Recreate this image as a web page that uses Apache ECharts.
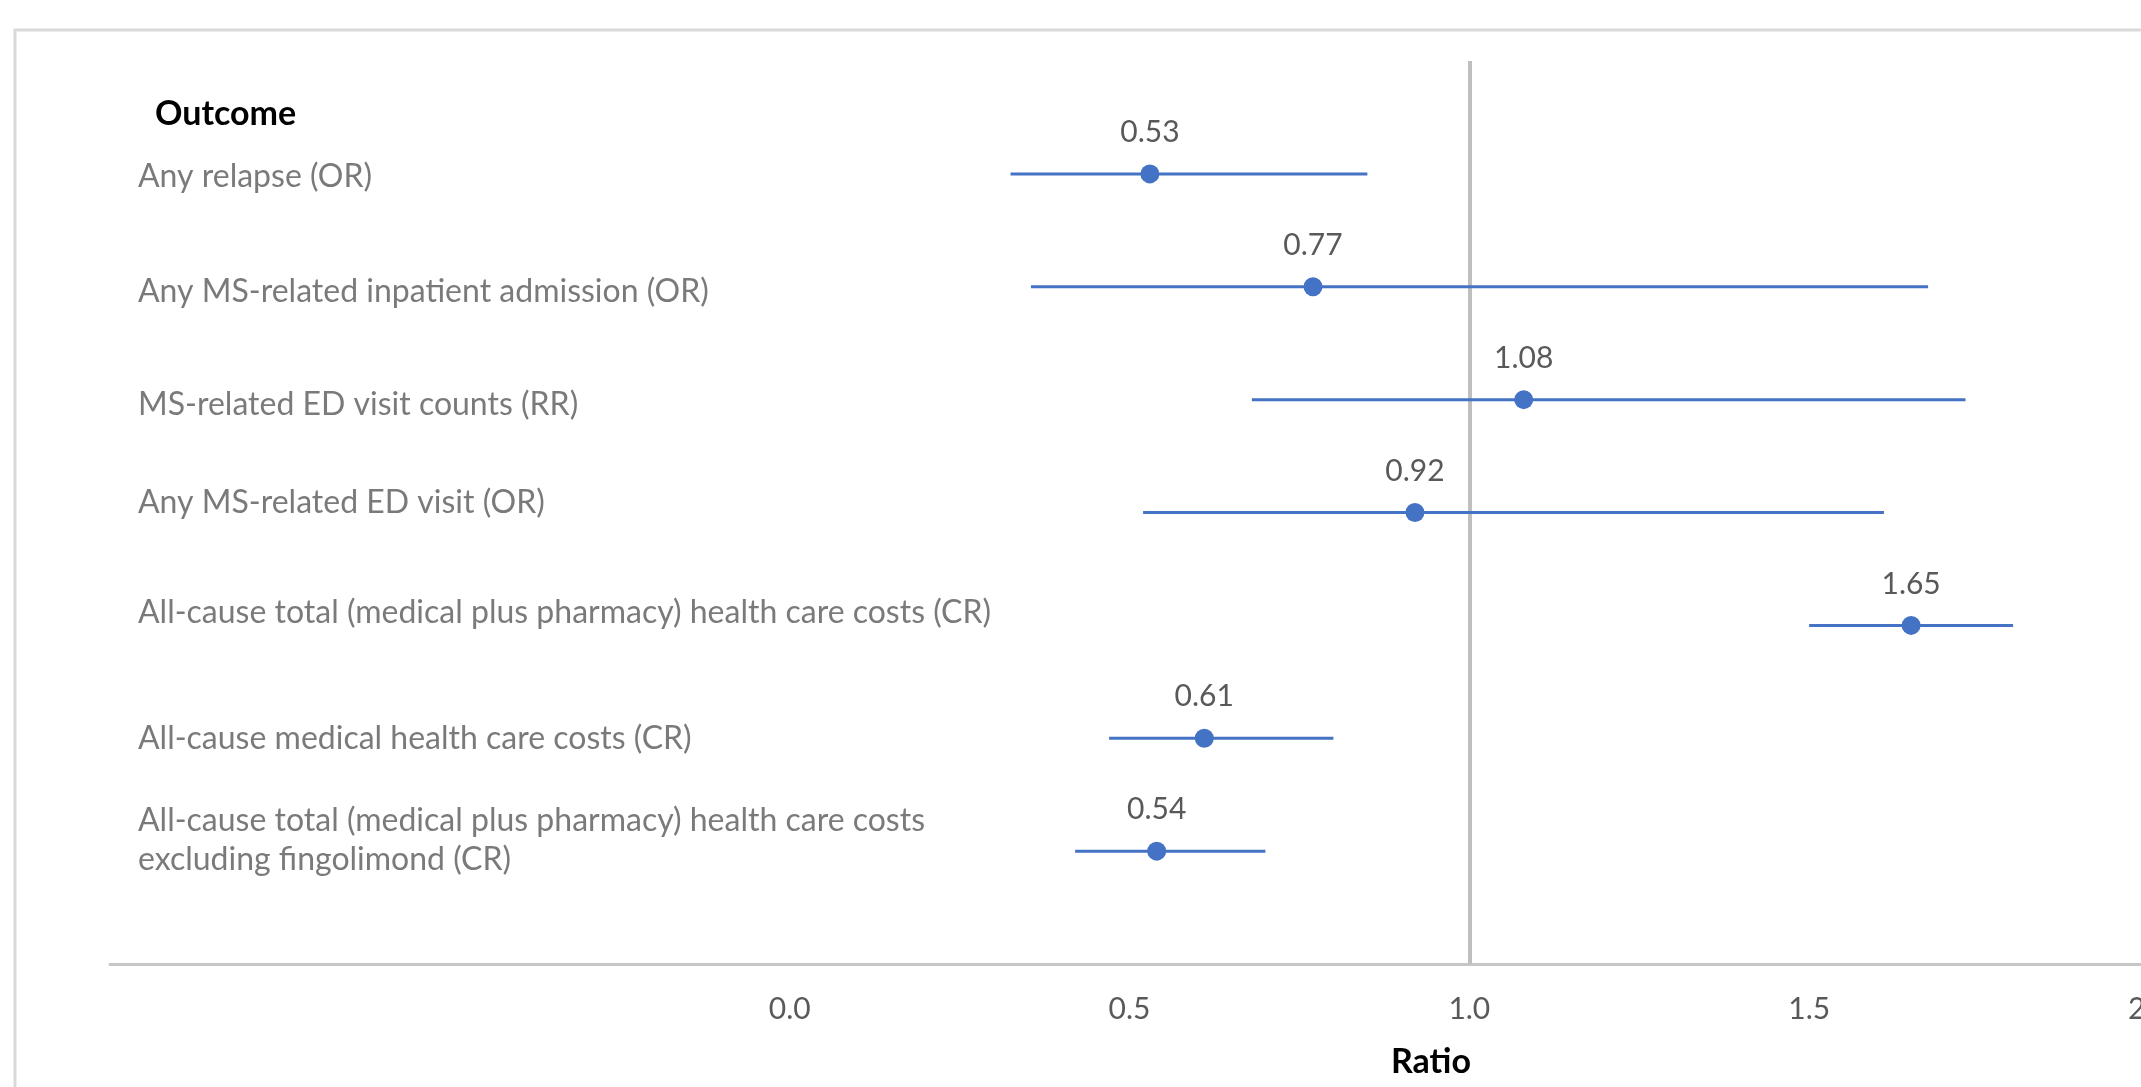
<!DOCTYPE html>
<html>
<head>
<meta charset="utf-8">
<script src="https://cdn.jsdelivr.net/npm/echarts@6/dist/echarts.min.js"></script>
<style>
  html, body { margin: 0; padding: 0; background: #fff; }
  #chart { width: 2141px; height: 1087px; }
</style>
</head>
<body>
<div id="chart"></div>
<script>
// outcomes, top to bottom
const outcomes = [
  "Any relapse (OR)",
  "Any MS-related inpatient admission (OR)",
  "MS-related ED visit counts (RR)",
  "Any MS-related ED visit (OR)",
  "All-cause total (medical plus pharmacy) health care costs (CR)",
  "All-cause medical health care costs (CR)",
  "All-cause total (medical plus pharmacy) health care costs\nexcluding fingolimond (CR)"
];
const ratios = [0.53, 0.77, 1.08, 0.92, 1.65, 0.61, 0.54];
const ciLow = [0.325, 0.355, 0.68, 0.52, 1.50, 0.47, 0.42];
const ciHigh = [0.85, 1.675, 1.73, 1.61, 1.80, 0.80, 0.70];
const rowPos = [7, 6, 5, 4, 3, 2, 1];
const xMin = -1, xMax = 2, xStep = 0.5;
const refLine = 1;

// small vertical nudges of the outcome text (px), as placed in the original
const labelNudge = [3, 5, 5, -10, -13, 0, -11];

const blue = "#4472C4";
const grey = "#595959";
const font = "Lato";

let chart = echarts.init(document.getElementById("chart"));

chart.setOption({
  animation: false,
  backgroundColor: "#fff",
  title: [
    {
      text: "Outcome",
      left: 155,
      top: 97,
      padding: 0,
      textStyle: { fontFamily: font, fontWeight: "bold", fontSize: 34, color: "#000" }
    },
    {
      text: "Ratio",
      left: 1391,
      top: 1045,
      padding: 0,
      textStyle: { fontFamily: font, fontWeight: "bold", fontSize: 34, color: "#000" }
    }
  ],
  graphic: [
    {
      // chart area frame (cut at right and bottom like the original)
      type: "rect",
      silent: true,
      z: -1,
      shape: { x: 15, y: 30, width: 2300, height: 1300 },
      style: { fill: null, stroke: "#d9d9d9", lineWidth: 3 }
    }
  ],
  grid: {
    left: 110,
    right: -8,
    top: 61,
    bottom: 123,
    outerBoundsMode: "none"
  },
  xAxis: {
    type: "value",
    min: xMin,
    max: xMax,
    interval: xStep,
    axisLine: { show: true, lineStyle: { color: "#c6c6c6", width: 3 } },
    axisTick: { show: false },
    splitLine: { show: false },
    axisLabel: {
      margin: 30,
      fontFamily: font,
      fontSize: 30,
      color: grey,
      showMaxLabel: true,
      formatter: v => (v < 0 ? "" : v.toFixed(1))
    }
  },
  yAxis: {
    type: "value",
    min: 0,
    max: 8,
    interval: 1,
    axisLine: { show: false },
    axisTick: { show: false },
    axisLabel: { show: false },
    splitLine: { show: false }
  },
  series: [
    {
      // confidence intervals
      type: "custom",
      name: "CI",
      data: rowPos.map((y, i) => [ciLow[i], ciHigh[i], y]),
      encode: { x: [0, 1], y: 2 },
      z: 3,
      renderItem: (params, api) => {
        let a = api.coord([api.value(0), api.value(2)]);
        let b = api.coord([api.value(1), api.value(2)]);
        return {
          type: "line",
          shape: { x1: a[0], y1: a[1], x2: b[0], y2: b[1] },
          style: { stroke: blue, lineWidth: 3 }
        };
      }
    },
    {
      // point estimates
      type: "scatter",
      name: "Ratio",
      data: rowPos.map((y, i) => [ratios[i], y]),
      symbol: "circle",
      symbolSize: 19,
      z: 4,
      itemStyle: { color: blue, opacity: 1 },
      label: {
        show: true,
        position: "top",
        distance: 17,
        fontFamily: font,
        fontSize: 30,
        color: grey,
        formatter: p => p.value[0].toFixed(2)
      },
      markLine: {
        silent: true,
        symbol: "none",
        z: 1,
        label: { show: false },
        lineStyle: { color: "#bfbfbf", width: 4, type: "solid" },
        data: [{ xAxis: refLine }]
      }
    },
    {
      // outcome names, anchored at the left end of the x axis
      type: "scatter",
      name: "Outcome",
      clip: false,
      symbolSize: 0,
      silent: true,
      data: rowPos.map((y, i) => ({
        value: [xMin, y],
        label: { offset: [0, labelNudge[i]] }
      })),
      label: {
        show: true,
        position: "right",
        distance: 28,
        align: "left",
        fontFamily: font,
        fontSize: 32,
        lineHeight: 39,
        color: grey,
        formatter: p => outcomes[p.dataIndex]
      }
    }
  ]
});
</script>
</body>
</html>
